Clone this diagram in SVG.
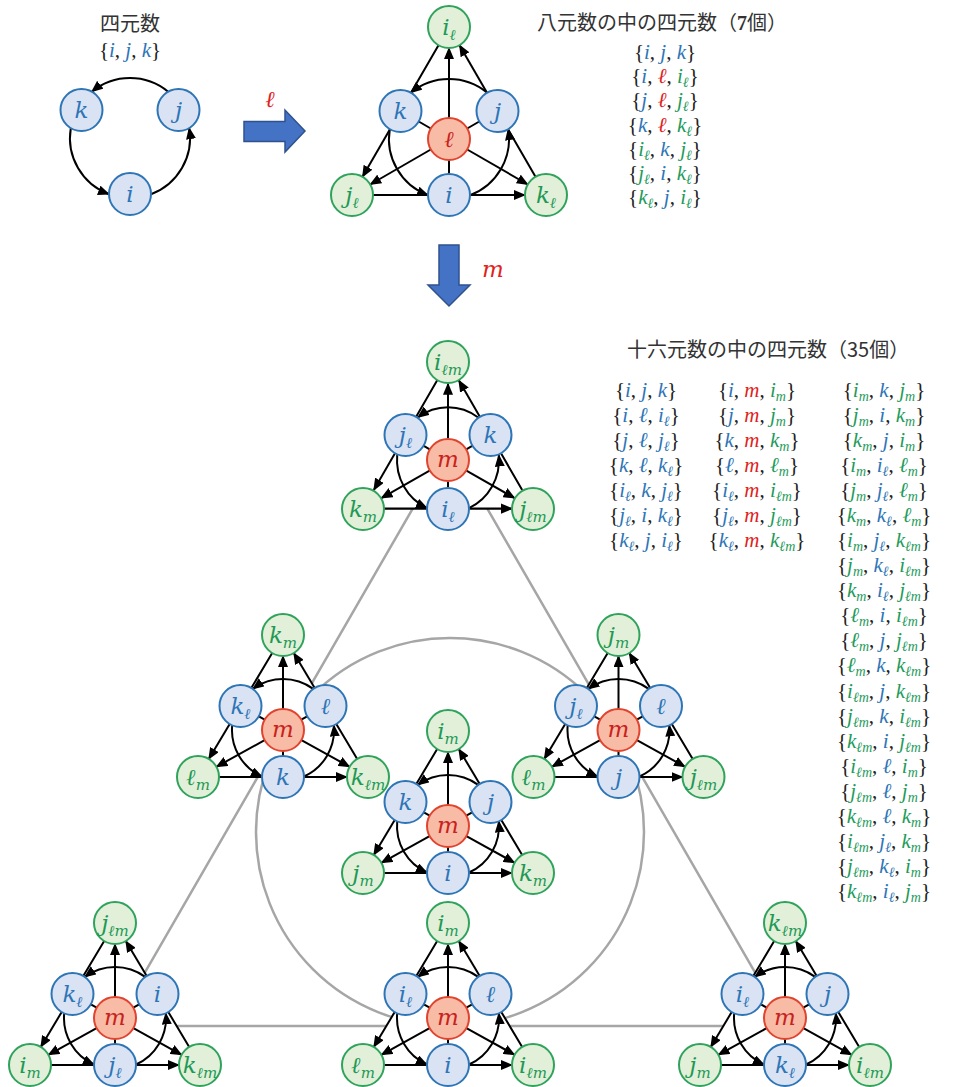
<svg xmlns="http://www.w3.org/2000/svg" width="960" height="1087" viewBox="0 0 960 1087">
<style>
.n circle{stroke-width:2}
.n text{font-family:"DejaVu Serif","Liberation Serif",serif;font-style:italic;font-size:23px;text-anchor:middle}
.nb circle{fill:#DAE3F3;stroke:#2E75B6}
.nb text{fill:#2E75B6}
.ng circle{fill:#E2F0D9;stroke:#2FA35B}
.ng text{fill:#1E9955}
.nr circle{fill:#F8BBA6;stroke:#E0432E}
.nr text{fill:#C8221C}
.ns{font-size:15px;baseline-shift:-5px}
.L{font-family:"Liberation Serif","DejaVu Serif",serif;font-size:21px;fill:#222;text-anchor:middle}
.b{fill:#2E75B6;font-style:italic}
.g{fill:#1E9B5A;font-style:italic}
.r{fill:#E0221B;font-style:italic}
.s{font-size:14px;baseline-shift:-4px}
.ttl{font-family:"Noto Sans CJK JP","Noto Sans",sans-serif;font-size:20px;fill:#333}
.big{fill:#4472C4;stroke:#2F528F;stroke-width:1.5}
</style>
<defs>
<marker id="ah" viewBox="0 0 12 10" refX="11" refY="5" markerWidth="12" markerHeight="10" markerUnits="userSpaceOnUse" orient="auto"><path d="M0,0L12,5L0,10Z" fill="#000"/></marker>
<g id="arcsO" fill="none" stroke="#000" stroke-width="2">
<path d="M38.2,-46.3A60,60 0 0 0 -38.2,-46.3" marker-end="url(#ah)"/>
<path d="M-59.2,-9.9A60,60 0 0 0 -21,56.2" marker-end="url(#ah)"/>
<path d="M21,56.2A60,60 0 0 0 59.2,-9.9" marker-end="url(#ah)"/>
</g>
<g id="edgesO" fill="none" stroke="#000" stroke-width="2">
<path d="M0,21V35M18.2,-10.5L30.3,-17.5M-18.2,-10.5L-30.3,-17.5M-10.5,-93.8L-38,-46.2M59,-9.8L86.5,37.8M-76,56H-21"/>
<path d="M0,-21V-91" marker-end="url(#ah)"/>
<path d="M-18.2,10.5L-78.8,45.5" marker-end="url(#ah)"/>
<path d="M18.2,10.5L78.8,45.5" marker-end="url(#ah)"/>
<path d="M-59,-9.8L-86.5,37.8" marker-end="url(#ah)"/>
<path d="M38,-46.2L10.5,-93.8" marker-end="url(#ah)"/>
<path d="M21,56H76" marker-end="url(#ah)"/>
<use href="#arcsO"/>
</g>
<g id="edgesS" fill="none" stroke="#000" stroke-width="2">
<path d="M0,21V26M18.3,-10.3L24.2,-13.7M-18.3,-10.3L-24.2,-13.7M-10.8,-77L-31.7,-42M53.3,-6L74.2,29M-64,47H-21"/>
<path d="M0,-21V-74" marker-end="url(#ah)"/>
<path d="M-18.4,10.2L-66.6,36.8" marker-end="url(#ah)"/>
<path d="M18.4,10.2L66.6,36.8" marker-end="url(#ah)"/>
<path d="M-53.3,-6L-74.2,29" marker-end="url(#ah)"/>
<path d="M31.7,-42L10.8,-77" marker-end="url(#ah)"/>
<path d="M21,47H64" marker-end="url(#ah)"/>
<path d="M30.2,-41.1A51,51 0 0 0 -30.2,-41.1" marker-end="url(#ah)"/>
<path d="M-50.8,-4.7A51,51 0 0 0 -21,46.5" marker-end="url(#ah)"/>
<path d="M21,46.5A51,51 0 0 0 50.8,-4.7" marker-end="url(#ah)"/>
</g>
<polygon id="cover" points="0,-95 -85,47 85,47" fill="#fff"/>
</defs>
<rect width="960" height="1087" fill="#fff"/>

<g id="frame-lines" fill="none" stroke="#A6A6A6" stroke-width="2.5">
<path d="M450,444L114,1026H786Z"/>
<circle cx="450" cy="832" r="194"/>
</g>
<g id="covers">
<use href="#cover" transform="translate(448,460) scale(1,1.035)"/>
<use href="#cover" transform="translate(283,730)"/>
<use href="#cover" transform="translate(448,826)"/>
<use href="#cover" transform="translate(618.5,730)"/>
<use href="#cover" transform="translate(115,1018)"/>
<use href="#cover" transform="translate(448,1018)"/>
<use href="#cover" transform="translate(785,1018)"/>
</g>

<g id="connectors">
<use href="#arcsO" transform="translate(130,138)"/>
<use href="#edgesO" transform="translate(449,139)"/>
<use href="#edgesS" transform="translate(448,460) scale(1,1.035)"/>
<use href="#edgesS" transform="translate(283,730)"/>
<use href="#edgesS" transform="translate(448,826)"/>
<use href="#edgesS" transform="translate(618.5,730)"/>
<use href="#edgesS" transform="translate(115,1018)"/>
<use href="#edgesS" transform="translate(448,1018)"/>
<use href="#edgesS" transform="translate(785,1018)"/>
</g>

<g id="big-arrows">
<path id="arrow-l" class="big" d="M244,121.5H285V110L305,131L285,152V141.5H244Z"/>
<path id="arrow-m" class="big" d="M439,245H459V285H470L449,306L428,285H439Z"/>
<text x="270" y="107" font-family="DejaVu Serif,serif" font-style="italic" font-size="23" fill="#E0221B" text-anchor="middle">ℓ</text>
<text x="493" y="277" font-family="DejaVu Serif,serif" font-style="italic" font-size="23" fill="#E0221B" text-anchor="middle">m</text>
</g>

<g id="quaternion">
<g id="q-k" class="n nb" transform="translate(81.5,110)"><circle r="21"/><text y="8">k</text></g>
<g id="q-j" class="n nb" transform="translate(178.5,110)"><circle r="21"/><text y="8">j</text></g>
<g id="q-i" class="n nb" transform="translate(130,194)"><circle r="21"/><text y="8">i</text></g>
</g>

<g id="octonion" transform="translate(449,139)">
<g id="o-il" class="n ng" transform="translate(0,-112)"><circle r="21"/><text y="8">i<tspan class="ns">ℓ</tspan></text></g>
<g id="o-k" class="n nb" transform="translate(-48.5,-28)"><circle r="21"/><text y="8">k</text></g>
<g id="o-j" class="n nb" transform="translate(48.5,-28)"><circle r="21"/><text y="8">j</text></g>
<g id="o-l" class="n nr"><circle r="21"/><text y="8">ℓ</text></g>
<g id="o-jl" class="n ng" transform="translate(-97,56)"><circle r="21"/><text y="8">j<tspan class="ns">ℓ</tspan></text></g>
<g id="o-i" class="n nb" transform="translate(0,56)"><circle r="21"/><text y="8">i</text></g>
<g id="o-kl" class="n ng" transform="translate(97,56)"><circle r="21"/><text y="8">k<tspan class="ns">ℓ</tspan></text></g>
</g>

<g id="s1" transform="translate(448,460)">
<g id="s1-ilm" class="n ng" transform="translate(0,-98)"><circle r="21"/><text y="8">i<tspan class="ns">ℓm</tspan></text></g>
<g id="s1-jl" class="n nb" transform="translate(-42.5,-25)"><circle r="21"/><text y="8">j<tspan class="ns">ℓ</tspan></text></g>
<g id="s1-k" class="n nb" transform="translate(42.5,-25)"><circle r="21"/><text y="8">k</text></g>
<g id="s1-m" class="n nr"><circle r="21"/><text y="7">m</text></g>
<g id="s1-km" class="n ng" transform="translate(-85,49)"><circle r="21"/><text y="8">k<tspan class="ns">m</tspan></text></g>
<g id="s1-il" class="n nb" transform="translate(0,49)"><circle r="21"/><text y="8">i<tspan class="ns">ℓ</tspan></text></g>
<g id="s1-jlm" class="n ng" transform="translate(85,49)"><circle r="21"/><text y="8">j<tspan class="ns">ℓm</tspan></text></g>
</g>

<g id="s2" transform="translate(283,730)">
<g id="s2-km" class="n ng" transform="translate(0,-95)"><circle r="21"/><text y="8">k<tspan class="ns">m</tspan></text></g>
<g id="s2-kl" class="n nb" transform="translate(-42.5,-24)"><circle r="21"/><text y="8">k<tspan class="ns">ℓ</tspan></text></g>
<g id="s2-l" class="n nb" transform="translate(42.5,-24)"><circle r="21"/><text y="8">ℓ</text></g>
<g id="s2-m" class="n nr"><circle r="21"/><text y="7">m</text></g>
<g id="s2-lm" class="n ng" transform="translate(-85,47)"><circle r="21"/><text y="8">ℓ<tspan class="ns">m</tspan></text></g>
<g id="s2-k" class="n nb" transform="translate(0,47)"><circle r="21"/><text y="8">k</text></g>
<g id="s2-klm" class="n ng" transform="translate(85,47)"><circle r="21"/><text y="8">k<tspan class="ns">ℓm</tspan></text></g>
</g>

<g id="s3" transform="translate(448,826)">
<g id="s3-im" class="n ng" transform="translate(0,-95)"><circle r="21"/><text y="8">i<tspan class="ns">m</tspan></text></g>
<g id="s3-k" class="n nb" transform="translate(-42.5,-24)"><circle r="21"/><text y="8">k</text></g>
<g id="s3-j" class="n nb" transform="translate(42.5,-24)"><circle r="21"/><text y="8">j</text></g>
<g id="s3-m" class="n nr"><circle r="21"/><text y="7">m</text></g>
<g id="s3-jm" class="n ng" transform="translate(-85,47)"><circle r="21"/><text y="8">j<tspan class="ns">m</tspan></text></g>
<g id="s3-i" class="n nb" transform="translate(0,47)"><circle r="21"/><text y="8">i</text></g>
<g id="s3-km" class="n ng" transform="translate(85,47)"><circle r="21"/><text y="8">k<tspan class="ns">m</tspan></text></g>
</g>

<g id="s4" transform="translate(618.5,730)">
<g id="s4-jm" class="n ng" transform="translate(0,-95)"><circle r="21"/><text y="8">j<tspan class="ns">m</tspan></text></g>
<g id="s4-jl" class="n nb" transform="translate(-42.5,-24)"><circle r="21"/><text y="8">j<tspan class="ns">ℓ</tspan></text></g>
<g id="s4-l" class="n nb" transform="translate(42.5,-24)"><circle r="21"/><text y="8">ℓ</text></g>
<g id="s4-m" class="n nr"><circle r="21"/><text y="7">m</text></g>
<g id="s4-lm" class="n ng" transform="translate(-85,47)"><circle r="21"/><text y="8">ℓ<tspan class="ns">m</tspan></text></g>
<g id="s4-j" class="n nb" transform="translate(0,47)"><circle r="21"/><text y="8">j</text></g>
<g id="s4-jlm" class="n ng" transform="translate(85,47)"><circle r="21"/><text y="8">j<tspan class="ns">ℓm</tspan></text></g>
</g>

<g id="s5" transform="translate(115,1018)">
<g id="s5-jlm" class="n ng" transform="translate(0,-95)"><circle r="21"/><text y="8">j<tspan class="ns">ℓm</tspan></text></g>
<g id="s5-kl" class="n nb" transform="translate(-42.5,-24)"><circle r="21"/><text y="8">k<tspan class="ns">ℓ</tspan></text></g>
<g id="s5-i" class="n nb" transform="translate(42.5,-24)"><circle r="21"/><text y="8">i</text></g>
<g id="s5-m" class="n nr"><circle r="21"/><text y="7">m</text></g>
<g id="s5-im" class="n ng" transform="translate(-85,47)"><circle r="21"/><text y="8">i<tspan class="ns">m</tspan></text></g>
<g id="s5-jl" class="n nb" transform="translate(0,47)"><circle r="21"/><text y="8">j<tspan class="ns">ℓ</tspan></text></g>
<g id="s5-klm" class="n ng" transform="translate(85,47)"><circle r="21"/><text y="8">k<tspan class="ns">ℓm</tspan></text></g>
</g>

<g id="s6" transform="translate(448,1018)">
<g id="s6-im" class="n ng" transform="translate(0,-95)"><circle r="21"/><text y="8">i<tspan class="ns">m</tspan></text></g>
<g id="s6-il" class="n nb" transform="translate(-42.5,-24)"><circle r="21"/><text y="8">i<tspan class="ns">ℓ</tspan></text></g>
<g id="s6-l" class="n nb" transform="translate(42.5,-24)"><circle r="21"/><text y="8">ℓ</text></g>
<g id="s6-m" class="n nr"><circle r="21"/><text y="7">m</text></g>
<g id="s6-lm" class="n ng" transform="translate(-85,47)"><circle r="21"/><text y="8">ℓ<tspan class="ns">m</tspan></text></g>
<g id="s6-i" class="n nb" transform="translate(0,47)"><circle r="21"/><text y="8">i</text></g>
<g id="s6-ilm" class="n ng" transform="translate(85,47)"><circle r="21"/><text y="8">i<tspan class="ns">ℓm</tspan></text></g>
</g>

<g id="s7" transform="translate(785,1018)">
<g id="s7-klm" class="n ng" transform="translate(0,-95)"><circle r="21"/><text y="8">k<tspan class="ns">ℓm</tspan></text></g>
<g id="s7-il" class="n nb" transform="translate(-42.5,-24)"><circle r="21"/><text y="8">i<tspan class="ns">ℓ</tspan></text></g>
<g id="s7-j" class="n nb" transform="translate(42.5,-24)"><circle r="21"/><text y="8">j</text></g>
<g id="s7-m" class="n nr"><circle r="21"/><text y="7">m</text></g>
<g id="s7-jm" class="n ng" transform="translate(-85,47)"><circle r="21"/><text y="8">j<tspan class="ns">m</tspan></text></g>
<g id="s7-kl" class="n nb" transform="translate(0,47)"><circle r="21"/><text y="8">k<tspan class="ns">ℓ</tspan></text></g>
<g id="s7-ilm" class="n ng" transform="translate(85,47)"><circle r="21"/><text y="8">i<tspan class="ns">ℓm</tspan></text></g>
</g>

<g id="titles">
<text class="ttl" x="130" y="31" text-anchor="middle" font-size="19">四元数</text>
<text class="ttl" x="537" y="30">八元数の中の四元数（<tspan font-family="Liberation Serif,serif" font-weight="bold">7</tspan>個）</text>
<text class="ttl" x="627" y="357">十六元数の中の四元数（35個）</text>
</g>

<g id="sets-quaternion">
<text class="L" x="130" y="57">{<tspan class="b">i</tspan>, <tspan class="b">j</tspan>, <tspan class="b">k</tspan>}</text>
</g>

<g id="sets-octonion">
<text class="L" x="665" y="59">{<tspan class="b">i</tspan>, <tspan class="b">j</tspan>, <tspan class="b">k</tspan>}</text>
<text class="L" x="665" y="83">{<tspan class="b">i</tspan>, <tspan class="r">ℓ</tspan>, <tspan class="g">i<tspan class="s">ℓ</tspan></tspan>}</text>
<text class="L" x="665" y="107">{<tspan class="b">j</tspan>, <tspan class="r">ℓ</tspan>, <tspan class="g">j<tspan class="s">ℓ</tspan></tspan>}</text>
<text class="L" x="665" y="132">{<tspan class="b">k</tspan>, <tspan class="r">ℓ</tspan>, <tspan class="g">k<tspan class="s">ℓ</tspan></tspan>}</text>
<text class="L" x="665" y="156">{<tspan class="g">i<tspan class="s">ℓ</tspan></tspan>, <tspan class="b">k</tspan>, <tspan class="g">j<tspan class="s">ℓ</tspan></tspan>}</text>
<text class="L" x="665" y="180">{<tspan class="g">j<tspan class="s">ℓ</tspan></tspan>, <tspan class="b">i</tspan>, <tspan class="g">k<tspan class="s">ℓ</tspan></tspan>}</text>
<text class="L" x="665" y="204">{<tspan class="g">k<tspan class="s">ℓ</tspan></tspan>, <tspan class="b">j</tspan>, <tspan class="g">i<tspan class="s">ℓ</tspan></tspan>}</text>
</g>

<g id="sets-sedenion">
<text class="L" x="646" y="397">{<tspan class="b">i</tspan>, <tspan class="b">j</tspan>, <tspan class="b">k</tspan>}</text>
<text class="L" x="646" y="422">{<tspan class="b">i</tspan>, <tspan class="b">ℓ</tspan>, <tspan class="b">i<tspan class="s">ℓ</tspan></tspan>}</text>
<text class="L" x="646" y="447">{<tspan class="b">j</tspan>, <tspan class="b">ℓ</tspan>, <tspan class="b">j<tspan class="s">ℓ</tspan></tspan>}</text>
<text class="L" x="646" y="472">{<tspan class="b">k</tspan>, <tspan class="b">ℓ</tspan>, <tspan class="b">k<tspan class="s">ℓ</tspan></tspan>}</text>
<text class="L" x="646" y="497">{<tspan class="b">i<tspan class="s">ℓ</tspan></tspan>, <tspan class="b">k</tspan>, <tspan class="b">j<tspan class="s">ℓ</tspan></tspan>}</text>
<text class="L" x="646" y="522">{<tspan class="b">j<tspan class="s">ℓ</tspan></tspan>, <tspan class="b">i</tspan>, <tspan class="b">k<tspan class="s">ℓ</tspan></tspan>}</text>
<text class="L" x="646" y="547">{<tspan class="b">k<tspan class="s">ℓ</tspan></tspan>, <tspan class="b">j</tspan>, <tspan class="b">i<tspan class="s">ℓ</tspan></tspan>}</text>

<text class="L" x="757" y="397">{<tspan class="b">i</tspan>, <tspan class="r">m</tspan>, <tspan class="g">i<tspan class="s">m</tspan></tspan>}</text>
<text class="L" x="757" y="422">{<tspan class="b">j</tspan>, <tspan class="r">m</tspan>, <tspan class="g">j<tspan class="s">m</tspan></tspan>}</text>
<text class="L" x="757" y="447">{<tspan class="b">k</tspan>, <tspan class="r">m</tspan>, <tspan class="g">k<tspan class="s">m</tspan></tspan>}</text>
<text class="L" x="757" y="472">{<tspan class="b">ℓ</tspan>, <tspan class="r">m</tspan>, <tspan class="g">ℓ<tspan class="s">m</tspan></tspan>}</text>
<text class="L" x="757" y="497">{<tspan class="b">i<tspan class="s">ℓ</tspan></tspan>, <tspan class="r">m</tspan>, <tspan class="g">i<tspan class="s">ℓm</tspan></tspan>}</text>
<text class="L" x="757" y="522">{<tspan class="b">j<tspan class="s">ℓ</tspan></tspan>, <tspan class="r">m</tspan>, <tspan class="g">j<tspan class="s">ℓm</tspan></tspan>}</text>
<text class="L" x="757" y="547">{<tspan class="b">k<tspan class="s">ℓ</tspan></tspan>, <tspan class="r">m</tspan>, <tspan class="g">k<tspan class="s">ℓm</tspan></tspan>}</text>

<text class="L" x="884" y="397">{<tspan class="g">i<tspan class="s">m</tspan></tspan>, <tspan class="b">k</tspan>, <tspan class="g">j<tspan class="s">m</tspan></tspan>}</text>
<text class="L" x="884" y="422">{<tspan class="g">j<tspan class="s">m</tspan></tspan>, <tspan class="b">i</tspan>, <tspan class="g">k<tspan class="s">m</tspan></tspan>}</text>
<text class="L" x="884" y="447">{<tspan class="g">k<tspan class="s">m</tspan></tspan>, <tspan class="b">j</tspan>, <tspan class="g">i<tspan class="s">m</tspan></tspan>}</text>
<text class="L" x="884" y="472">{<tspan class="g">i<tspan class="s">m</tspan></tspan>, <tspan class="b">i<tspan class="s">ℓ</tspan></tspan>, <tspan class="g">ℓ<tspan class="s">m</tspan></tspan>}</text>
<text class="L" x="884" y="497">{<tspan class="g">j<tspan class="s">m</tspan></tspan>, <tspan class="b">j<tspan class="s">ℓ</tspan></tspan>, <tspan class="g">ℓ<tspan class="s">m</tspan></tspan>}</text>
<text class="L" x="884" y="522">{<tspan class="g">k<tspan class="s">m</tspan></tspan>, <tspan class="b">k<tspan class="s">ℓ</tspan></tspan>, <tspan class="g">ℓ<tspan class="s">m</tspan></tspan>}</text>
<text class="L" x="884" y="547">{<tspan class="g">i<tspan class="s">m</tspan></tspan>, <tspan class="b">j<tspan class="s">ℓ</tspan></tspan>, <tspan class="g">k<tspan class="s">ℓm</tspan></tspan>}</text>
<text class="L" x="884" y="572">{<tspan class="g">j<tspan class="s">m</tspan></tspan>, <tspan class="b">k<tspan class="s">ℓ</tspan></tspan>, <tspan class="g">i<tspan class="s">ℓm</tspan></tspan>}</text>
<text class="L" x="884" y="597">{<tspan class="g">k<tspan class="s">m</tspan></tspan>, <tspan class="b">i<tspan class="s">ℓ</tspan></tspan>, <tspan class="g">j<tspan class="s">ℓm</tspan></tspan>}</text>
<text class="L" x="884" y="622">{<tspan class="g">ℓ<tspan class="s">m</tspan></tspan>, <tspan class="b">i</tspan>, <tspan class="g">i<tspan class="s">ℓm</tspan></tspan>}</text>
<text class="L" x="884" y="647">{<tspan class="g">ℓ<tspan class="s">m</tspan></tspan>, <tspan class="b">j</tspan>, <tspan class="g">j<tspan class="s">ℓm</tspan></tspan>}</text>
<text class="L" x="884" y="672">{<tspan class="g">ℓ<tspan class="s">m</tspan></tspan>, <tspan class="b">k</tspan>, <tspan class="g">k<tspan class="s">ℓm</tspan></tspan>}</text>
<text class="L" x="884" y="698">{<tspan class="g">i<tspan class="s">ℓm</tspan></tspan>, <tspan class="b">j</tspan>, <tspan class="g">k<tspan class="s">ℓm</tspan></tspan>}</text>
<text class="L" x="884" y="723">{<tspan class="g">j<tspan class="s">ℓm</tspan></tspan>, <tspan class="b">k</tspan>, <tspan class="g">i<tspan class="s">ℓm</tspan></tspan>}</text>
<text class="L" x="884" y="748">{<tspan class="g">k<tspan class="s">ℓm</tspan></tspan>, <tspan class="b">i</tspan>, <tspan class="g">j<tspan class="s">ℓm</tspan></tspan>}</text>
<text class="L" x="884" y="773">{<tspan class="g">i<tspan class="s">ℓm</tspan></tspan>, <tspan class="b">ℓ</tspan>, <tspan class="g">i<tspan class="s">m</tspan></tspan>}</text>
<text class="L" x="884" y="798">{<tspan class="g">j<tspan class="s">ℓm</tspan></tspan>, <tspan class="b">ℓ</tspan>, <tspan class="g">j<tspan class="s">m</tspan></tspan>}</text>
<text class="L" x="884" y="823">{<tspan class="g">k<tspan class="s">ℓm</tspan></tspan>, <tspan class="b">ℓ</tspan>, <tspan class="g">k<tspan class="s">m</tspan></tspan>}</text>
<text class="L" x="884" y="848">{<tspan class="g">i<tspan class="s">ℓm</tspan></tspan>, <tspan class="b">j<tspan class="s">ℓ</tspan></tspan>, <tspan class="g">k<tspan class="s">m</tspan></tspan>}</text>
<text class="L" x="884" y="873">{<tspan class="g">j<tspan class="s">ℓm</tspan></tspan>, <tspan class="b">k<tspan class="s">ℓ</tspan></tspan>, <tspan class="g">i<tspan class="s">m</tspan></tspan>}</text>
<text class="L" x="884" y="898">{<tspan class="g">k<tspan class="s">ℓm</tspan></tspan>, <tspan class="b">i<tspan class="s">ℓ</tspan></tspan>, <tspan class="g">j<tspan class="s">m</tspan></tspan>}</text>
</g>
</svg>
